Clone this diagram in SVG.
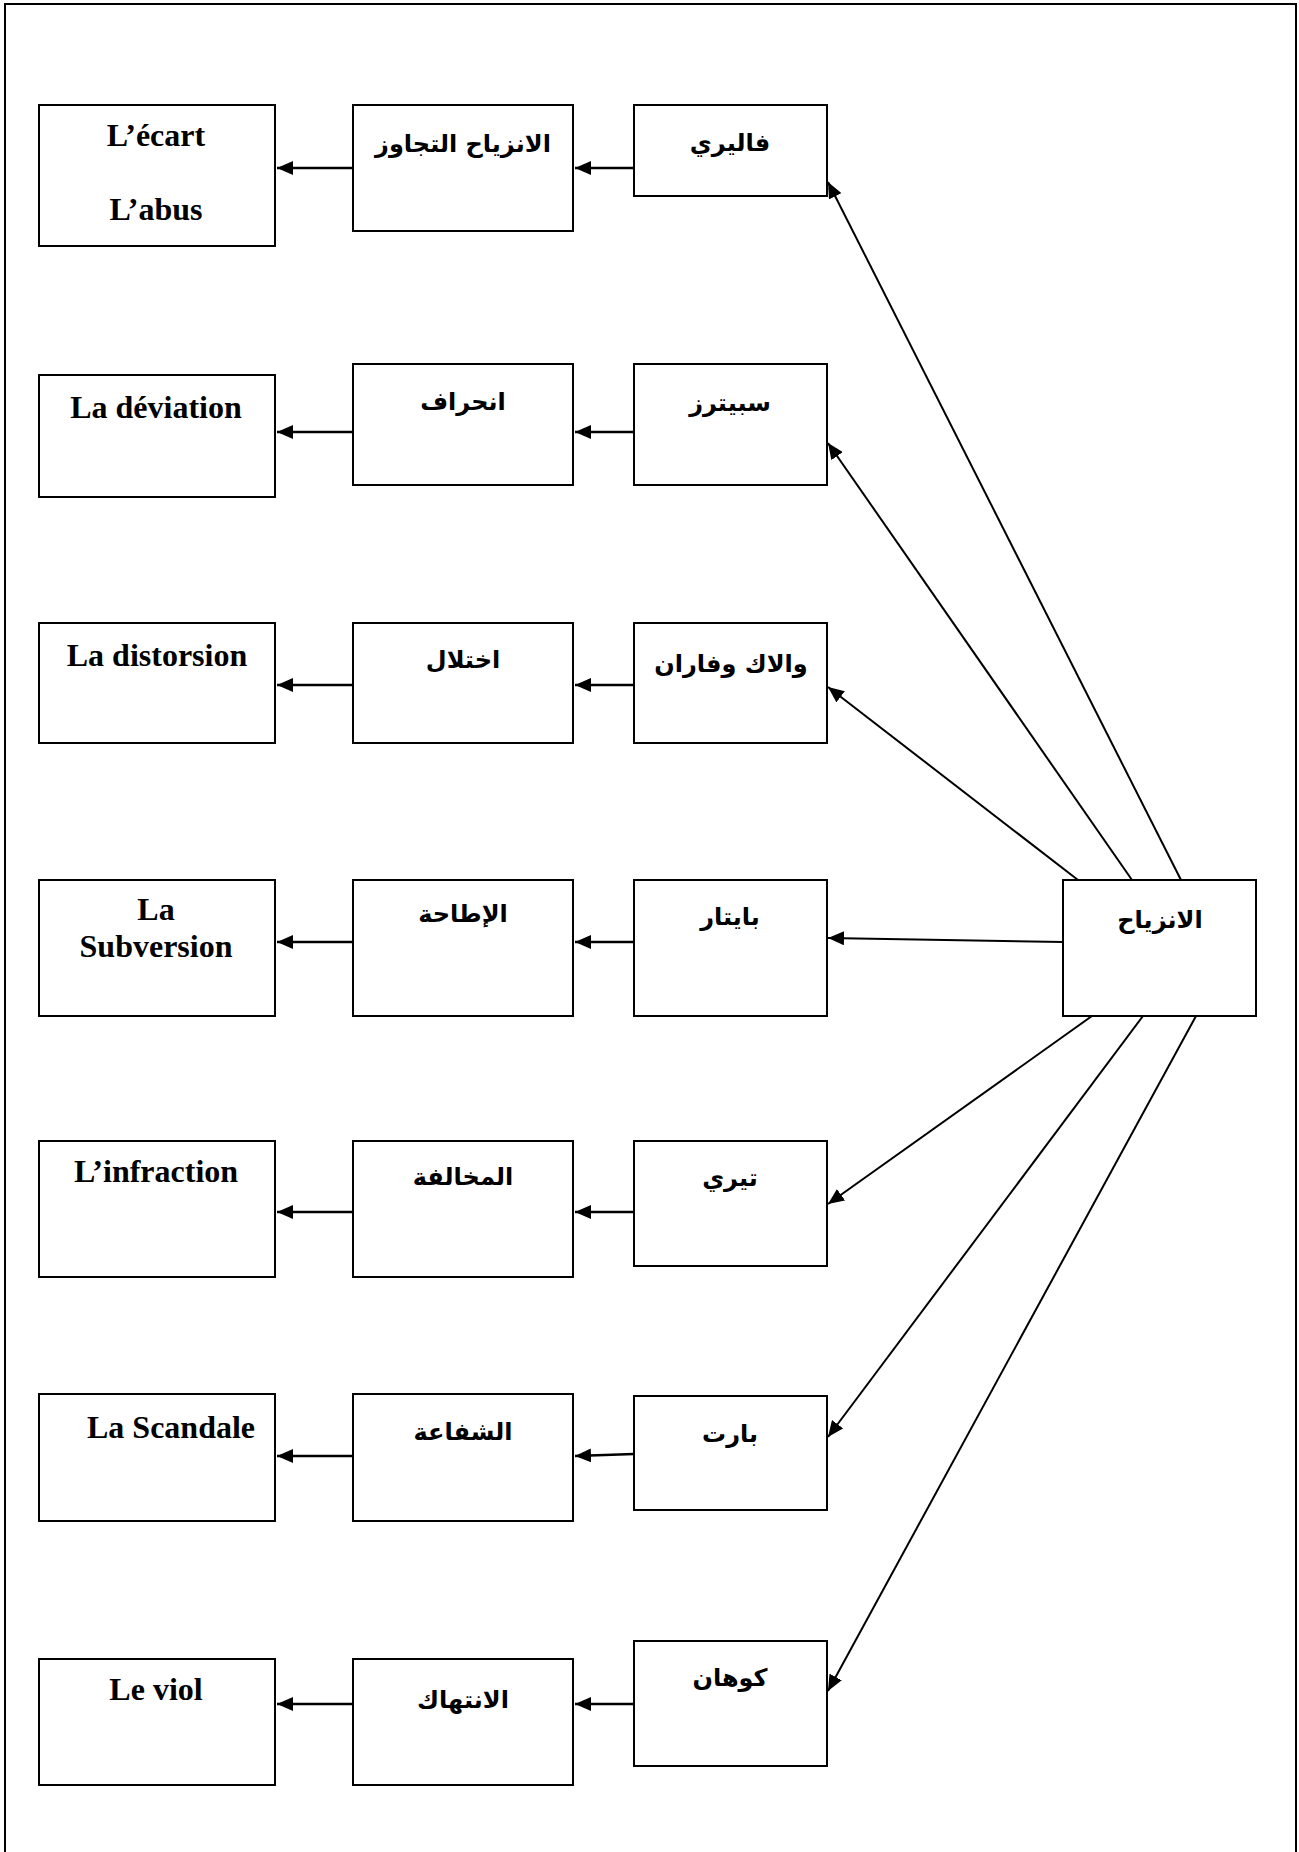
<svg xmlns="http://www.w3.org/2000/svg" width="1299" height="1852" viewBox="0 0 1299 1852">
<defs>
<style>
.box{fill:#fff;stroke:#000;stroke-width:2}
.fr{font-family:"Liberation Serif","Times New Roman",serif;font-weight:bold;font-size:32px;text-anchor:middle;fill:#000}
.ar{font-family:"DejaVu Sans",sans-serif;font-weight:bold;font-size:24px;text-anchor:middle;fill:#000}
.h{stroke:#000;stroke-width:2.5;fill:none}
.d{stroke:#000;stroke-width:2;fill:none}
</style>
<marker id="ah" viewBox="0 0 16 14" refX="16" refY="7" markerWidth="16" markerHeight="14" markerUnits="userSpaceOnUse" orient="auto">
<path d="M0,0 L16,7 L0,14 z" fill="#000"/>
</marker>
</defs>
<rect x="0" y="0" width="1299" height="1852" fill="#fff"/>
<path d="M5,1852 V4 H1296 V1852" fill="none" stroke="#000" stroke-width="2"/>

<g id="connectors">
<line class="h" x1="634" y1="168" x2="575" y2="168" marker-end="url(#ah)"/>
<line class="h" x1="353" y1="168" x2="277" y2="168" marker-end="url(#ah)"/>
<line class="h" x1="634" y1="432" x2="575" y2="432" marker-end="url(#ah)"/>
<line class="h" x1="353" y1="432" x2="277" y2="432" marker-end="url(#ah)"/>
<line class="h" x1="634" y1="685" x2="575" y2="685" marker-end="url(#ah)"/>
<line class="h" x1="353" y1="685" x2="277" y2="685" marker-end="url(#ah)"/>
<line class="h" x1="634" y1="942" x2="575" y2="942" marker-end="url(#ah)"/>
<line class="h" x1="353" y1="942" x2="277" y2="942" marker-end="url(#ah)"/>
<line class="h" x1="634" y1="1212" x2="575" y2="1212" marker-end="url(#ah)"/>
<line class="h" x1="353" y1="1212" x2="277" y2="1212" marker-end="url(#ah)"/>
<line class="h" x1="634" y1="1454" x2="575" y2="1456" marker-end="url(#ah)"/>
<line class="h" x1="353" y1="1456" x2="277" y2="1456" marker-end="url(#ah)"/>
<line class="h" x1="634" y1="1704" x2="575" y2="1704" marker-end="url(#ah)"/>
<line class="h" x1="353" y1="1704" x2="277" y2="1704" marker-end="url(#ah)"/>
<line class="d" x1="1181" y1="880" x2="828" y2="182" marker-end="url(#ah)"/>
<line class="d" x1="1132" y1="880" x2="828" y2="443" marker-end="url(#ah)"/>
<line class="d" x1="1078" y1="880" x2="828" y2="687" marker-end="url(#ah)"/>
<line class="d" x1="1063" y1="942" x2="828" y2="938" marker-end="url(#ah)"/>
<line class="d" x1="1092" y1="1016" x2="828" y2="1204" marker-end="url(#ah)"/>
<line class="d" x1="1143" y1="1016" x2="828" y2="1437" marker-end="url(#ah)"/>
<line class="d" x1="1196" y1="1016" x2="828" y2="1691" marker-end="url(#ah)"/>
</g>

<g id="main">
<rect class="box" x="1063" y="880" width="193" height="136"/>
<text class="ar" x="1160" y="928">الانزياح</text>
</g>

<g id="r1-fr"><rect class="box" x="39" y="105" width="236" height="141"/><text class="fr" x="156" y="146">L’écart</text><text class="fr" x="156" y="220">L’abus</text></g>
<g id="r1-ar"><rect class="box" x="353" y="105" width="220" height="126"/><text class="ar" x="463" y="152">الانزياح التجاوز</text></g>
<g id="r1-au"><rect class="box" x="634" y="105" width="193" height="91"/><text class="ar" x="730" y="151">فاليري</text></g>

<g id="r2-fr"><rect class="box" x="39" y="375" width="236" height="122"/><text class="fr" x="156" y="418">La déviation</text></g>
<g id="r2-ar"><rect class="box" x="353" y="364" width="220" height="121"/><text class="ar" x="463" y="410">انحراف</text></g>
<g id="r2-au"><rect class="box" x="634" y="364" width="193" height="121"/><text class="ar" x="730" y="411">سبيترز</text></g>

<g id="r3-fr"><rect class="box" x="39" y="623" width="236" height="120"/><text class="fr" x="157" y="666">La distorsion</text></g>
<g id="r3-ar"><rect class="box" x="353" y="623" width="220" height="120"/><text class="ar" x="463" y="668">اختلال</text></g>
<g id="r3-au"><rect class="box" x="634" y="623" width="193" height="120"/><text class="ar" x="731" y="672">والاك وفاران</text></g>

<g id="r4-fr"><rect class="box" x="39" y="880" width="236" height="136"/><text class="fr" x="156" y="920">La</text><text class="fr" x="156" y="957">Subversion</text></g>
<g id="r4-ar"><rect class="box" x="353" y="880" width="220" height="136"/><text class="ar" x="463" y="922">الإطاحة</text></g>
<g id="r4-au"><rect class="box" x="634" y="880" width="193" height="136"/><text class="ar" x="730" y="925">بايتار</text></g>

<g id="r5-fr"><rect class="box" x="39" y="1141" width="236" height="136"/><text class="fr" x="156" y="1182">L’infraction</text></g>
<g id="r5-ar"><rect class="box" x="353" y="1141" width="220" height="136"/><text class="ar" x="463" y="1185">المخالفة</text></g>
<g id="r5-au"><rect class="box" x="634" y="1141" width="193" height="125"/><text class="ar" x="730" y="1186">تيري</text></g>

<g id="r6-fr"><rect class="box" x="39" y="1394" width="236" height="127"/><text class="fr" x="171" y="1438">La Scandale</text></g>
<g id="r6-ar"><rect class="box" x="353" y="1394" width="220" height="127"/><text class="ar" x="463" y="1440">الشفاعة</text></g>
<g id="r6-au"><rect class="box" x="634" y="1396" width="193" height="114"/><text class="ar" x="730" y="1442">بارت</text></g>

<g id="r7-fr"><rect class="box" x="39" y="1659" width="236" height="126"/><text class="fr" x="156" y="1700">Le viol</text></g>
<g id="r7-ar"><rect class="box" x="353" y="1659" width="220" height="126"/><text class="ar" x="463" y="1708">الانتهاك</text></g>
<g id="r7-au"><rect class="box" x="634" y="1641" width="193" height="125"/><text class="ar" x="730" y="1686">كوهان</text></g>
</svg>
